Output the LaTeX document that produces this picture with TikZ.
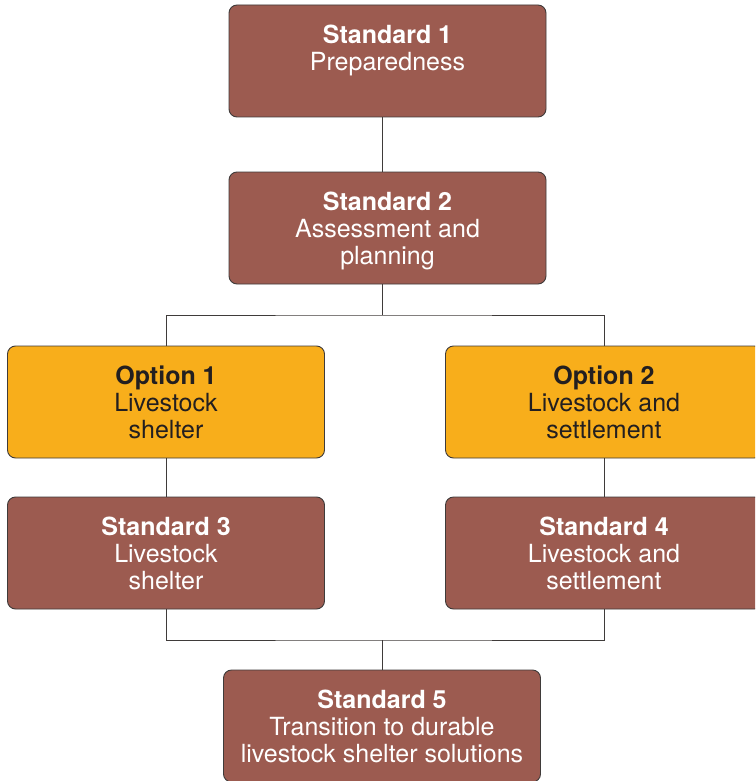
\documentclass[tikz,border=0pt]{standalone}
\usepackage{fontspec}
\setmainfont{TeX Gyre Heros}
\definecolor{brownbox}{HTML}{9C5B50}
\definecolor{yellowbox}{HTML}{F8AE1B}
\definecolor{edgegray}{HTML}{3F3B3A}
\definecolor{darktext}{HTML}{231F20}
\newcommand{\nodepth}[1]{\raisebox{0pt}[\height][0pt]{#1}}
\begin{document}
\begin{tikzpicture}[x=1pt,y=-1pt,
  box/.style={draw=edgegray,line width=0.9pt,rounded corners=8pt,minimum width=317pt,minimum height=112pt,
    inner sep=0pt,align=center,font=\fontsize{25}{26.8}\selectfont},
  stdbox/.style={box,fill=brownbox,text=white},
  optbox/.style={box,fill=yellowbox,text=darktext},
  conn/.style={draw=edgegray,line width=0.9pt}]
\clip (0,0) rectangle (755,781);
\fill[white] (0,0) rectangle (755,781);
\node[stdbox] (s1) at (387.5,61) {\textbf{Standard 1}\\Preparedness\\\mbox{}};
\node[stdbox] (s2) at (387.5,228) {\textbf{Standard 2}\\Assessment and\\\nodepth{planning}};
\node[optbox] (o1) at (166,402) {\textbf{Option 1}\\Livestock\\\nodepth{shelter}};
\node[optbox] (o2) at (604,402) {\textbf{Option 2}\\Livestock and\\\nodepth{settlement}};
\node[stdbox] (s3) at (166,553) {\textbf{Standard 3}\\Livestock\\\nodepth{shelter}};
\node[stdbox] (s4) at (604,553) {\textbf{Standard 4}\\Livestock and\\\nodepth{settlement}};
\node[stdbox] (s5) at (382,726) {\textbf{Standard 5}\\Transition to durable\\\nodepth{livestock shelter solutions}};
\coordinate (j1) at (382,315);
\coordinate (j2) at (382,640);
\draw[conn] (s1.south -| j1) -- (s2.north -| j1);
\draw[conn] (s2.south -| j1) -- (j1);
\draw[conn] (o1.north) |- (j1) -| (o2.north);
\draw[conn] (o1.south) -- (s3.north);
\draw[conn] (o2.south) -- (s4.north);
\draw[conn] (s3.south) |- (j2) -| (s4.south);
\draw[conn] (j2) -- (s5.north);
\end{tikzpicture}
\end{document}
